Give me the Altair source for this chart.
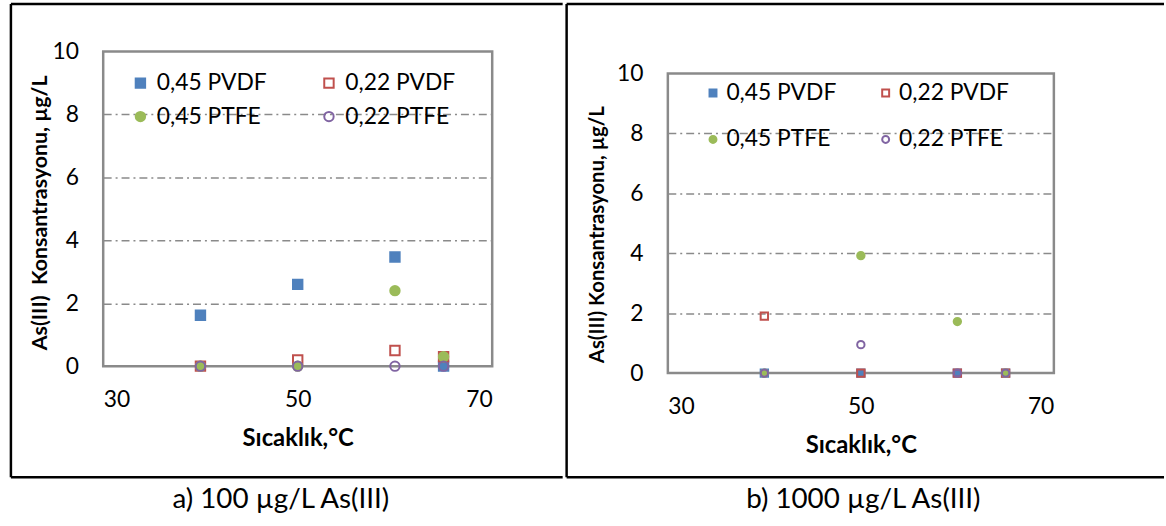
import altair as alt
import pandas as pd

series = ["0,45 PVDF", "0,22 PVDF", "0,45 PTFE", "0,22 PTFE"]
temps = [40, 50, 60, 65]
# panel a) 100 µg/L
a_pvdf45 = [1.62, 2.6, 3.47, 0.0]
a_pvdf22 = [0.0, 0.2, 0.5, 0.3]
a_ptfe45 = [0.0, 0.0, 2.4, 0.3]
a_ptfe22 = [0.0, 0.0, 0.0, 0.0]
# panel b) 1000 µg/L
b_pvdf45 = [0.0, 0.0, 0.0, 0.0]
b_pvdf22 = [1.9, 0.0, 0.0, 0.0]
b_ptfe45 = [0.0, 3.92, 1.72, 0.0]
b_ptfe22 = [0.0, 0.95, 0.0, 0.0]

x_ticks = [30, 50, 70]
y_ticks = [0, 2, 4, 6, 8, 10]
captions = ["a) 100 µg/L As(III)", "b) 1000 µg/L As(III)"]
y_titles = ["As(III)\u00a0 Konsantrasyonu, µg/L", "As(III) Konsantrasyonu, µg/L"]
x_title = "Sıcaklık,°C"

strokes = ["#4F81BD", "#C0504D", "#9BBB59", "#8064A2"]
fills = ["#4F81BD", "transparent", "#9BBB59", "transparent"]
shapes = ["square", "square", "circle", "circle"]
FONT = "Lato"
GRAY = "#8a8a8a"


def build_df(cols):
    rows = []
    for s, vals in zip(series, cols):
        for t, v in zip(temps, vals):
            rows.append({"series": s, "T": t, "C": v})
    return pd.DataFrame(rows)


one = pd.DataFrame({"k": [0]})


def panel(df, W, H, ytop, size, leg, frame, cap, cap_xy, ytitle, ytfs, ytp, ty):
    grid_op = {"condition": {"test": "datum.value === 0 || datum.value === 10", "value": 0}, "value": 1}
    pts = alt.Chart(df).mark_point(filled=True, size=size, strokeWidth=2, opacity=1).encode(
        x=alt.X("T:Q", scale=alt.Scale(domain=[30, 70], nice=False, zero=False),
                axis=alt.Axis(values=x_ticks, grid=False, ticks=False, domain=False,
                              labelFont=FONT, labelFontSize=23, labelColor="black", labelPadding=23,
                              title=x_title, titleFont=FONT, titleFontWeight="bold", titleFontSize=24,
                              titleColor="black", titlePadding=15)),
        y=alt.Y("C:Q", scale=alt.Scale(domain=[0, 10], nice=False, range=[H, ytop]),
                axis=alt.Axis(values=y_ticks, grid=True, gridDash=[8, 4, 2, 4], gridColor=GRAY,
                              gridWidth=1.5, gridOpacity=grid_op, ticks=False, domain=False,
                              labelFont=FONT, labelFontSize=23, labelColor="black", labelPadding=25,
                              title=ytitle, titleFont=FONT, titleFontWeight="bold", titleFontSize=ytfs,
                              titleColor="black", titlePadding=ytp, titleY=ty)),
        shape=alt.Shape("series:N", scale=alt.Scale(domain=series, range=shapes), legend=leg),
        fill=alt.Fill("series:N", scale=alt.Scale(domain=series, range=fills), legend=leg),
        stroke=alt.Stroke("series:N", scale=alt.Scale(domain=series, range=strokes), legend=leg),
        order=alt.Order("idx:Q"),
    ).transform_calculate(idx="indexof(%s, datum.series)" % str(series))
    box = alt.Chart(one).mark_rect(fill="transparent", stroke=GRAY, strokeWidth=2.5).encode(
        x=alt.value(0), x2=alt.value(W), y=alt.value(ytop), y2=alt.value(H))
    x0, x1, y0, y1 = frame
    layers = [box, pts]
    layers.append(alt.Chart(one).mark_rule(color="black", strokeWidth=2.5).encode(
        x=alt.value(x0), x2=alt.value(x1), y=alt.value(y0)))
    layers.append(alt.Chart(one).mark_rule(color="black", strokeWidth=2.5).encode(
        x=alt.value(x0), x2=alt.value(x1), y=alt.value(y1)))
    layers.append(alt.Chart(one).mark_rule(color="black", strokeWidth=2.5).encode(
        x=alt.value(x0), y=alt.value(y0), y2=alt.value(y1)))
    layers.append(alt.Chart(one).mark_text(font=FONT, fontSize=28, color="black",
                                           align="center", baseline="middle").encode(
        x=alt.value(cap_xy[0]), y=alt.value(cap_xy[1]), text=alt.value(cap)))
    return alt.layer(*layers).properties(width=W, height=H)


def legend(x, y, lfs, ssize, colpad, rowpad, loff):
    return alt.Legend(orient="none", legendX=x, legendY=y, columns=2, direction="horizontal",
                      title=None, labelFont=FONT, labelFontSize=lfs, labelColor="black",
                      symbolSize=ssize, symbolStrokeWidth=2, columnPadding=colpad,
                      rowPadding=rowpad, labelOffset=loff, padding=0)


dfa = build_df([a_pvdf45, a_pvdf22, a_ptfe45, a_ptfe22])
dfb = build_df([b_pvdf45, b_pvdf22, b_ptfe45, b_ptfe22])

p1 = panel(dfa, 392, 317, 0, 90, legend(26, 20, 23, 90, 51, 10, 5),
           (-93, 463, -48, 429), captions[0], (179, 452), y_titles[0], 21.5, 0, 162)
p2 = panel(dfb, 389, 324, 22, 55, legend(34, 30, 23, 49, 38, 23, 2),
           (-102, 500, -48, 429), captions[1], (197, 452), y_titles[1], 20.5, 9, 184)

chart = alt.concat(p1, p2, columns=2, spacing=0, align="none").resolve_scale(
    shape="independent", fill="independent", stroke="independent"
).resolve_legend(shape="independent", fill="independent", stroke="independent").configure_view(
    stroke=None
).properties(padding={"left": 9, "top": 0, "right": 0, "bottom": 0}, background="white")

chart.save("out.html", embed_options={"renderer": "svg", "actions": False})
